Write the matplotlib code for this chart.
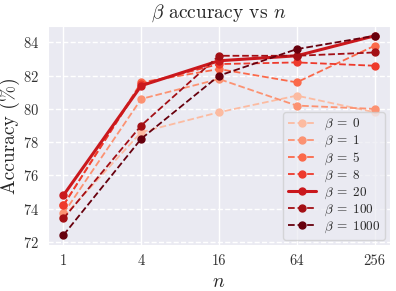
import numpy as np
import matplotlib
matplotlib.use("Agg")
import matplotlib.pyplot as plt
import seaborn as sns

# sample sizes and accuracy (%) per beta
n_values = [1, 4, 16, 64, 256]
betas = [0, 1, 5, 8, 20, 100, 1000]

acc_b0 = [73.5, 78.6, 79.8, 80.8, 79.8]
acc_b1 = [73.7, 80.6, 81.8, 80.2, 80.0]
acc_b5 = [74.2, 81.6, 82.4, 81.6, 83.8]
acc_b8 = [74.2, 81.5, 82.7, 82.8, 82.6]
acc_b20 = [74.8, 81.4, 82.9, 83.2, 84.4]
acc_b100 = [73.4, 79.0, 83.2, 83.2, 83.4]
acc_b1000 = [72.4, 78.2, 82.0, 83.6, 84.4]

all_acc = [acc_b0, acc_b1, acc_b5, acc_b8, acc_b20, acc_b100, acc_b1000]

sns.set_style("darkgrid")
plt.rcParams['font.family'] = 'serif'
plt.rcParams['font.serif'] = ['cmr10', 'DejaVu Serif']
plt.rcParams['mathtext.fontset'] = 'cm'
plt.rcParams['axes.formatter.use_mathtext'] = True

fig, ax = plt.subplots(figsize=(3.96, 2.91), dpi=100)
fig.subplots_adjust(left=0.121, right=0.985, top=0.911, bottom=0.158)

colors = plt.cm.Reds(np.linspace(0.25, 1.0, len(betas)))
for beta, acc, c in zip(betas, all_acc, colors):
    if beta == 20:
        ax.plot(n_values, acc, color=c, marker='o', markersize=5, linewidth=2.2,
                linestyle='-', label=rf'$\beta\;=\;{beta}$')
    else:
        ax.plot(n_values, acc, color=c, marker='o', markersize=5, linewidth=1.3,
                linestyle='--', label=rf'$\beta\;=\;{beta}$')

ax.set_xscale('log', base=2)
ax.set_xticks(n_values)
ax.set_xticklabels([str(v) for v in n_values])
ax.minorticks_off()
ax.set_yticks([72, 74, 76, 78, 80, 82, 84])
ax.set_ylim(71.8, 85)

ax.yaxis.grid(True, linestyle='--', color='white', linewidth=1)
ax.xaxis.grid(True, linestyle='-', color='white', linewidth=1)
ax.tick_params(labelsize=10.5, colors='#333333', pad=3)

ax.set_xlabel('$n$', fontsize=14)
ax.set_ylabel(r'Accuracy (%)', fontsize=14, labelpad=2)
ax.set_title(r'$\beta$ accuracy vs $n$', fontsize=14)

ax.legend(loc='lower right', fontsize=9.5, framealpha=0.7, handlelength=2.1,
          labelspacing=0.12, borderaxespad=0.4, borderpad=0.35, handletextpad=0.6)

fig.savefig('out.png', dpi=100)
